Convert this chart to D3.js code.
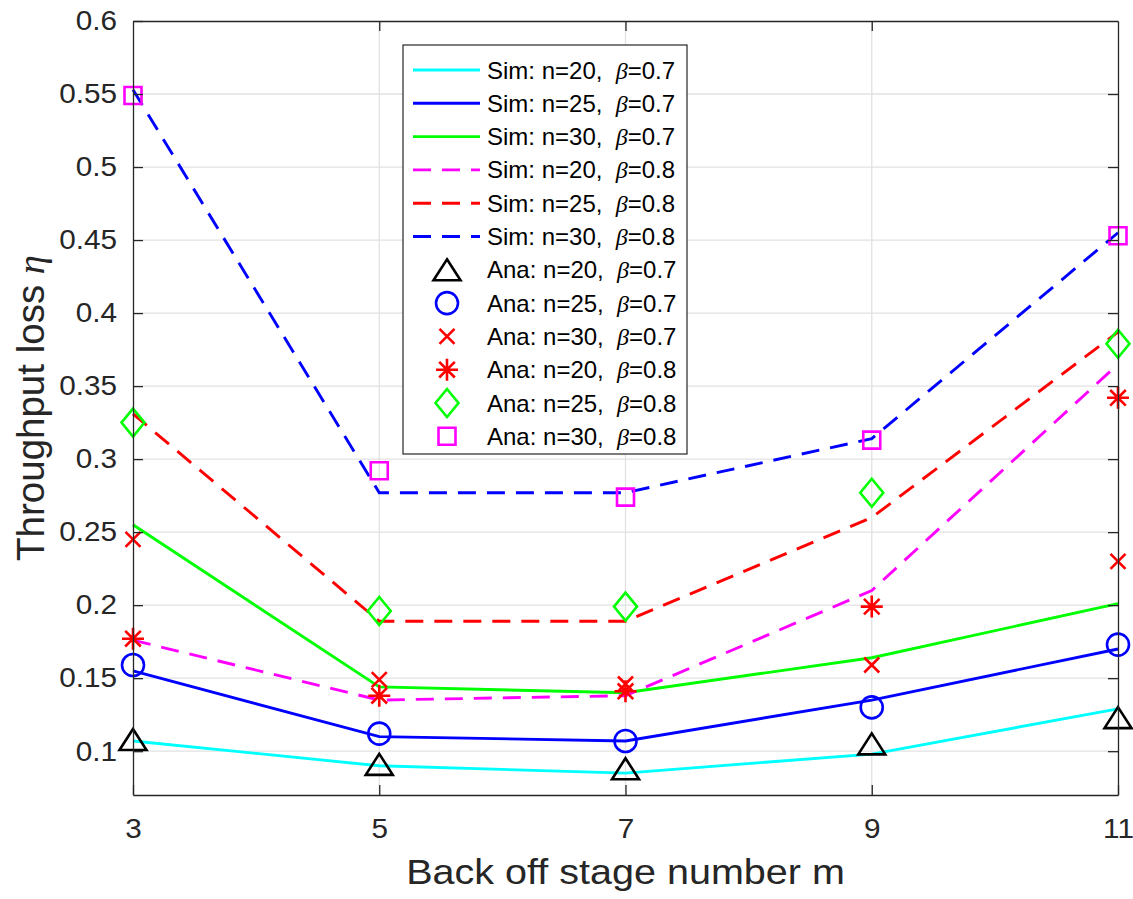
<!DOCTYPE html>
<html>
<head>
<meta charset="utf-8">
<script src="https://cdn.jsdelivr.net/npm/d3@7"></script>
<style>
  body { margin: 0; background: #fff; }
  svg { display: block; }
</style>
</head>
<body>
<div id="chart"></div>
<script>
// back off stage numbers (x axis)
const stages = [3, 5, 7, 9, 11];

// simulation curves
const simN20B07 = [0.107, 0.090, 0.085, 0.098, 0.129];
const simN25B07 = [0.155, 0.110, 0.107, 0.135, 0.170];
const simN30B07 = [0.255, 0.144, 0.140, 0.164, 0.201];
const simN20B08 = [0.176, 0.135, 0.138, 0.210, 0.365];
const simN25B08 = [0.331, 0.189, 0.189, 0.260, 0.387];
const simN30B08 = [0.553, 0.277, 0.277, 0.314, 0.455];

// analytical points
const anaN20B07 = [0.108, 0.091, 0.088, 0.105, 0.123];
const anaN25B07 = [0.159, 0.112, 0.107, 0.130, 0.173];
const anaN30B07 = [0.245, 0.149, 0.146, 0.159, 0.230];
const anaN20B08 = [0.177, 0.138, 0.141, 0.199, 0.342];
const anaN25B08 = [0.325, 0.196, 0.199, 0.277, 0.379];
const anaN30B08 = [0.549, 0.292, 0.274, 0.313, 0.453];

// ticks
const xTicks = [3, 5, 7, 9, 11];
const yTicks = [0.1, 0.15, 0.2, 0.25, 0.3, 0.35, 0.4, 0.45, 0.5, 0.55, 0.6];
const yTickLabels = ["0.1", "0.15", "0.2", "0.25", "0.3", "0.35", "0.4", "0.45", "0.5", "0.55", "0.6"];

const simSeries = [
    {n: "20", b: "0.7", values: simN20B07, color: "#00ffff", dash: null},
    {n: "25", b: "0.7", values: simN25B07, color: "#0000ff", dash: null},
    {n: "30", b: "0.7", values: simN30B07, color: "#00ff00", dash: null},
    {n: "20", b: "0.8", values: simN20B08, color: "#ff00ff", dash: "18,11"},
    {n: "25", b: "0.8", values: simN25B08, color: "#ff0000", dash: "18,11"},
    {n: "30", b: "0.8", values: simN30B08, color: "#0000ff", dash: "18,11"}
];
const anaSeries = [
    {n: "20", b: "0.7", values: anaN20B07, color: "#000000", shape: "triangle"},
    {n: "25", b: "0.7", values: anaN25B07, color: "#0000ff", shape: "circle"},
    {n: "30", b: "0.7", values: anaN30B07, color: "#ff0000", shape: "x"},
    {n: "20", b: "0.8", values: anaN20B08, color: "#ff0000", shape: "asterisk"},
    {n: "25", b: "0.8", values: anaN25B08, color: "#00ff00", shape: "diamond"},
    {n: "30", b: "0.8", values: anaN30B08, color: "#ff00ff", shape: "square"}
];

const W = 1133, H = 899;
const plot = {left: 133, right: 1118, top: 21, bottom: 795};
const axisColor = "#262626";
const gridColor = "#e2e2e2";
const SX = 1.08; // horizontal stretch of the matlab text

const x = d3.scaleLinear().domain([3, 11]).range([plot.left, plot.right]);
const y = d3.scaleLinear().domain([0.07, 0.6]).range([plot.bottom, plot.top]);

const svg = d3.select("#chart").append("svg")
    .attr("width", W).attr("height", H);

// marker outlines, centred at 0,0
function markerPath(shape) {
    switch (shape) {
        case "triangle": return "M0,-10.5L13.5,10.5L-13.5,10.5Z";
        case "circle": return d3.arc()({innerRadius: 0, outerRadius: 11, startAngle: 0, endAngle: 2 * Math.PI});
        case "x": return "M-7.5,-7.5L7.5,7.5M-7.5,7.5L7.5,-7.5";
        case "asterisk": return "M0,-11V11M-11,0H11M-7.8,-7.8L7.8,7.8M-7.8,7.8L7.8,-7.8";
        case "diamond": return "M0,-14L11.5,0L0,14L-11.5,0Z";
        case "square": return "M-8.5,-8.5H8.5V8.5H-8.5Z";
    }
}

// grid
const grid = svg.append("g");
grid.selectAll(".gy").data(yTicks.filter(v => v < 0.6)).enter().append("line")
    .attr("x1", plot.left).attr("x2", plot.right)
    .attr("y1", d => y(d)).attr("y2", d => y(d))
    .attr("stroke", gridColor).attr("stroke-width", 1.3);
grid.selectAll(".gx").data(xTicks.filter(v => v > 3 && v < 11)).enter().append("line")
    .attr("y1", plot.top).attr("y2", plot.bottom)
    .attr("x1", d => x(d)).attr("x2", d => x(d))
    .attr("stroke", gridColor).attr("stroke-width", 1.3);

// simulation lines
const line = d3.line().x((d, i) => x(stages[i])).y(d => y(d));
svg.append("g").selectAll("path").data(simSeries).enter().append("path")
    .attr("d", d => line(d.values))
    .attr("fill", "none")
    .attr("stroke", d => d.color)
    .attr("stroke-width", 2.9)
    .attr("stroke-dasharray", d => d.dash);

// analytical markers
const marks = svg.append("g");
anaSeries.forEach(s => {
    marks.append("g").selectAll("path").data(s.values).enter().append("path")
        .attr("transform", (d, i) => `translate(${x(stages[i])},${y(d)})`)
        .attr("d", markerPath(s.shape))
        .attr("fill", "none")
        .attr("stroke", s.color)
        .attr("stroke-width", 2.6);
});

// axes (inward ticks, box on)
const fontFamily = "'Liberation Sans', Arial, Helvetica, sans-serif";
function styleAxis(g) {
    g.select(".domain").attr("stroke", axisColor).attr("stroke-width", 1.3);
    g.selectAll(".tick line").attr("stroke", axisColor).attr("stroke-width", 1.3);
    g.selectAll(".tick text").attr("fill", axisColor)
        .style("font-family", fontFamily).style("font-size", "27.5px");
}

const yAxis = svg.append("g").attr("transform", `translate(${plot.left},0)`)
    .call(d3.axisLeft(y).tickValues(yTicks).tickFormat((d, i) => yTickLabels[i])
        .tickSize(-10).tickSizeOuter(0).tickPadding(16))
    .call(styleAxis);
yAxis.selectAll(".tick text")
    .attr("x", 0)
    .attr("transform", `translate(-16,0) scale(${SX},1)`);

const xAxis = svg.append("g").attr("transform", `translate(0,${plot.bottom})`)
    .call(d3.axisBottom(x).tickValues(xTicks).tickFormat(d3.format("d"))
        .tickSize(-10).tickSizeOuter(0).tickPadding(24))
    .call(styleAxis);
xAxis.selectAll(".tick text")
    .attr("y", 0)
    .attr("transform", `translate(0,23) scale(${SX},1)`);

svg.append("g").attr("transform", `translate(0,${plot.top})`)
    .call(d3.axisTop(x).tickValues(xTicks.filter(v => v > 3 && v < 11)).tickFormat("")
        .tickSize(-10).tickSizeOuter(0))
    .call(styleAxis);
svg.append("g").attr("transform", `translate(${plot.right},0)`)
    .call(d3.axisRight(y).tickValues(yTicks.filter(v => v < 0.6)).tickFormat("")
        .tickSize(-10).tickSizeOuter(0))
    .call(styleAxis);

// axis labels
svg.append("text")
    .attr("transform", `translate(${(plot.left + plot.right) / 2},884) scale(1.13,1)`)
    .attr("text-anchor", "middle")
    .attr("fill", axisColor)
    .style("font-family", fontFamily).style("font-size", "35px")
    .text("Back off stage number m");

const yl = svg.append("text")
    .attr("transform", `translate(44,${(plot.top + plot.bottom) / 2}) rotate(-90)`)
    .attr("text-anchor", "middle")
    .attr("fill", axisColor)
    .style("font-family", fontFamily).style("font-size", "38.5px")
    .style("white-space", "pre");
yl.append("tspan").text("Throughput loss ");
yl.append("tspan").style("font-family", "'Liberation Serif', 'DejaVu Serif', serif")
    .style("font-style", "italic").text("η");

// legend
const leg = {x: 403, y: 45, w: 284, h: 409, row: 33.3, first: 70};
const lg = svg.append("g");
lg.append("rect")
    .attr("x", leg.x).attr("y", leg.y).attr("width", leg.w).attr("height", leg.h)
    .attr("fill", "#fff").attr("stroke", axisColor).attr("stroke-width", 1.2);

const items = simSeries.map(d => Object.assign({kind: "Sim"}, d))
    .concat(anaSeries.map(d => Object.assign({kind: "Ana"}, d)));

items.forEach((d, i) => {
    const cy = leg.first + i * leg.row;
    if (d.kind === "Sim") {
        lg.append("line")
            .attr("x1", 413).attr("x2", 480).attr("y1", cy).attr("y2", cy)
            .attr("stroke", d.color).attr("stroke-width", 2.9)
            .attr("stroke-dasharray", d.dash);
    } else {
        lg.append("path")
            .attr("transform", `translate(447,${cy})`)
            .attr("d", markerPath(d.shape))
            .attr("fill", "none").attr("stroke", d.color).attr("stroke-width", 2.6);
    }
    const t = lg.append("text")
        .attr("x", 487).attr("y", cy + 8.5)
        .attr("fill", "#000")
        .style("font-family", fontFamily).style("font-size", "24px")
        .style("white-space", "pre");
    t.append("tspan").text(`${d.kind}: n=${d.n},  `);
    t.append("tspan").style("font-family", "'Liberation Serif', 'DejaVu Serif', serif")
        .style("font-style", "italic").text("β");
    t.append("tspan").text(`=${d.b}`);
});
</script>
</body>
</html>
